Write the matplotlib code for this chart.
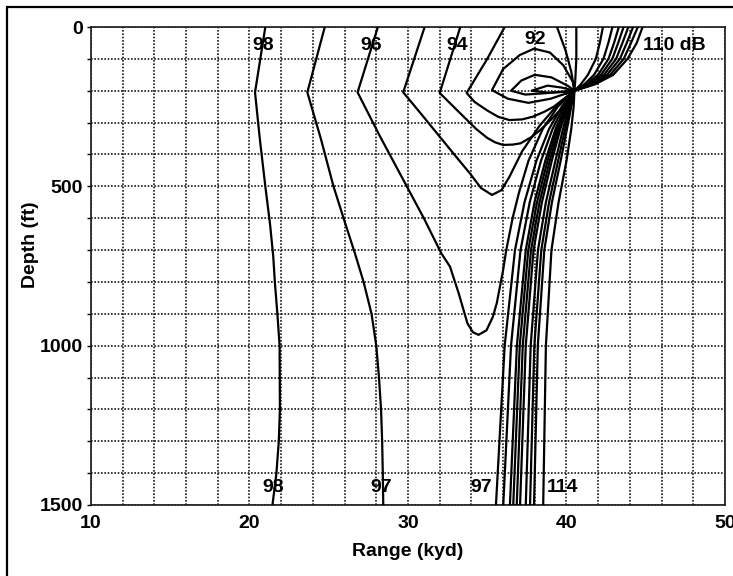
import numpy as np
import matplotlib
matplotlib.use("Agg")
import matplotlib.pyplot as plt
from matplotlib.patches import Rectangle

# Contornos de pérdida por transmisión (rango en kyd, profundidad en ft)
rng_98 = [21.0, 20.35, 20.65, 21.0, 21.3, 21.5, 21.6, 21.76, 21.9, 21.92, 21.85, 21.7, 21.45]
dep_98 = [0, 205, 350, 500, 620, 720, 800, 900, 1000, 1200, 1300, 1400, 1500]

rng_97 = [24.75, 23.65, 24.5, 25.3, 26.0, 26.65, 27.2, 27.7, 28.0, 28.17, 28.3, 28.37, 28.41, 28.44]
dep_97 = [0, 205, 350, 500, 610, 710, 800, 900, 1000, 1100, 1200, 1300, 1400, 1500]

rng_96 = [28.1, 26.82, 28.2, 29.6, 31.0, 32.1, 32.65, 33.2, 33.75, 34.1, 34.45, 34.95, 35.35,
          35.6, 36.0, 36.2, 36.6, 37.0, 37.6, 38.5, 39.45, 40.5]
dep_96 = [0, 205, 340, 470, 600, 710, 752, 836, 930, 958, 966, 952, 910,
          867, 763, 700, 600, 520, 420, 320, 250, 200]

rng_95 = [31.05, 29.7, 30.8, 32.0, 33.0, 33.9, 34.6, 35.3, 35.9, 36.4, 37.2, 38.3, 39.5, 40.5]
dep_95 = [0, 205, 271, 344, 405, 459, 505, 527, 512, 470, 390, 310, 240, 200]

rng_94 = [33.3, 32.0, 33.3, 34.3, 35.0, 35.5, 36.0, 36.6, 37.1, 37.8, 38.35, 39.0, 39.6, 40.5]
dep_94 = [0, 207, 271, 320, 348, 362, 370, 369, 365, 345, 323, 292, 260, 200]

rng_93 = [36.1, 35.0, 33.7, 34.2, 35.0, 35.7, 36.4, 37.2, 37.9, 38.6, 39.2, 40.5]
dep_93 = [0, 100, 207, 235, 262, 282, 292, 290, 281, 266, 250, 200]

# lazos cerrados cerca de la convergencia
rng_92 = [40.5, 40.4, 39.8, 38.95, 37.95, 37.05, 36.0, 35.3, 36.3, 37.6, 39.0, 40.5]
dep_92 = [200, 172, 120, 80, 68, 88, 132, 198, 225, 238, 225, 200]

rng_91 = [40.5, 40.1, 39.05, 38.0, 37.15, 36.5, 37.4, 38.6, 40.5]
dep_91 = [200, 185, 158, 150, 168, 200, 212, 208, 200]

rng_90 = [40.5, 39.7, 38.8, 37.8, 38.8, 39.7, 40.5]
dep_90 = [200, 190, 184, 200, 206, 204, 200]

# lineas que suben desde la convergencia
rng_up1 = [39.4, 39.95, 40.3, 40.5]
dep_up1 = [0, 75, 140, 200]
rng_up2 = [40.62, 40.62, 40.55, 40.5]
dep_up2 = [0, 100, 170, 200]

# abanico superior derecho (hasta 110 dB)
dep_top_fan = [200, 180, 150, 100, 50, 0]
top_fan = [
    [40.5, 40.9, 41.35, 41.85, 42.1, 42.3],
    [40.5, 41.12, 41.74, 42.33, 42.64, 42.9],
    [40.5, 41.26, 41.99, 42.65, 43.0, 43.3],
    [40.5, 41.37, 42.18, 42.89, 43.26, 43.6],
    [40.5, 41.47, 42.37, 43.13, 43.53, 43.9],
    [40.5, 41.58, 42.56, 43.37, 43.8, 44.2],
    [40.5, 41.69, 42.76, 43.61, 44.07, 44.5],
    [40.5, 41.8, 42.95, 43.85, 44.43, 44.8],
]

# abanico inferior (97 ... 114 dB)
dep_bot_fan = [200, 250, 320, 420, 550, 700, 1000, 1500]
bot_fan = [
    [40.5, 39.7, 38.9, 38.1, 37.35, 36.75, 36.1, 35.55],
    [40.5, 39.82, 39.12, 38.39, 37.68, 37.1, 36.5, 36.01],
    [40.5, 39.92, 39.31, 38.66, 37.98, 37.43, 36.87, 36.43],
    [40.5, 39.97, 39.41, 38.8, 38.14, 37.59, 37.05, 36.64],
    [40.5, 40.03, 39.52, 38.94, 38.3, 37.76, 37.24, 36.86],
    [40.5, 40.08, 39.61, 39.07, 38.45, 37.92, 37.43, 37.07],
    [40.5, 40.17, 39.78, 39.3, 38.7, 38.2, 37.74, 37.43],
    [40.5, 40.24, 39.91, 39.47, 38.9, 38.41, 37.97, 37.70],
    [40.5, 40.3, 40.03, 39.63, 39.08, 38.6, 38.19, 37.95],
    [40.5, 40.45, 40.3, 40.0, 39.5, 39.05, 38.7, 38.53],
]

plt.rcParams['font.family'] = ['Liberation Sans', 'DejaVu Sans']
plt.rcParams['font.weight'] = 'bold'

fig = plt.figure(figsize=(7.33, 5.76), dpi=100)
ax = fig.add_axes([0.1241, 0.1233, 0.865, 0.8298])

lw = 1.6
for xs, ds in [(rng_98, dep_98), (rng_97, dep_97), (rng_96, dep_96), (rng_95, dep_95),
               (rng_94, dep_94), (rng_93, dep_93), (rng_92, dep_92), (rng_91, dep_91),
               (rng_90, dep_90), (rng_up1, dep_up1), (rng_up2, dep_up2)]:
    ax.plot(xs, ds, color='black', lw=lw, solid_joinstyle='round', zorder=3)
for xs in top_fan:
    ax.plot(xs, dep_top_fan, color='black', lw=lw, solid_joinstyle='round', zorder=3)
for xs in bot_fan:
    ax.plot(xs, dep_bot_fan, color='black', lw=lw, solid_joinstyle='round', zorder=3)

ax.set_xlim(10, 50)
ax.set_ylim(1500, 0)
ax.set_xticks([10, 20, 30, 40, 50])
ax.set_xticks(np.arange(10, 51, 2), minor=True)
ax.set_yticks([0, 500, 1000, 1500])
ax.set_yticks(np.arange(0, 1501, 100), minor=True)
ax.grid(which='both', color='#1a1a1a', linestyle=(0, (1, 1)), lw=1.2, zorder=1)
for sp in ax.spines.values():
    sp.set_linestyle((0, (1, 1)))
    sp.set_linewidth(1.2)
    sp.set_color('#1a1a1a')

ax.tick_params(axis='x', which='both', length=0, pad=7, labelsize=14)
ax.tick_params(axis='y', which='both', length=3, width=1, pad=3, labelsize=14)

ax.set_xlabel('Range (kyd)', fontsize=14, fontweight='bold')
ax.set_ylabel('Depth (ft)', fontsize=14, fontweight='bold', va='center')
ax.xaxis.set_label_coords(0.5, -0.08)
ax.yaxis.set_label_coords(-0.096, 0.545)

tk = dict(fontsize=14, fontweight='bold', ha='center', va='center', zorder=4)
ax.text(20.87, 59, '98', **tk)
ax.text(27.7, 59, '96', **tk)
ax.text(33.1, 59, '94', **tk)
ax.text(38.05, 39, '92', **tk)
ax.text(44.85, 58, '110 dB', fontsize=14, fontweight='bold', ha='left', va='center', zorder=4)
ax.text(21.5, 1445, '98', **tk)
ax.text(28.3, 1445, '97', **tk)
ax.text(34.6, 1445, '97', **tk)
ax.text(39.75, 1445, '114', **tk)

fig.add_artist(Rectangle((7 / 733, -0.1), 2, 1.1 - 7 / 576, transform=fig.transFigure,
                         fill=False, lw=1.6, ec='black'))

fig.savefig('out.png', dpi=100)
